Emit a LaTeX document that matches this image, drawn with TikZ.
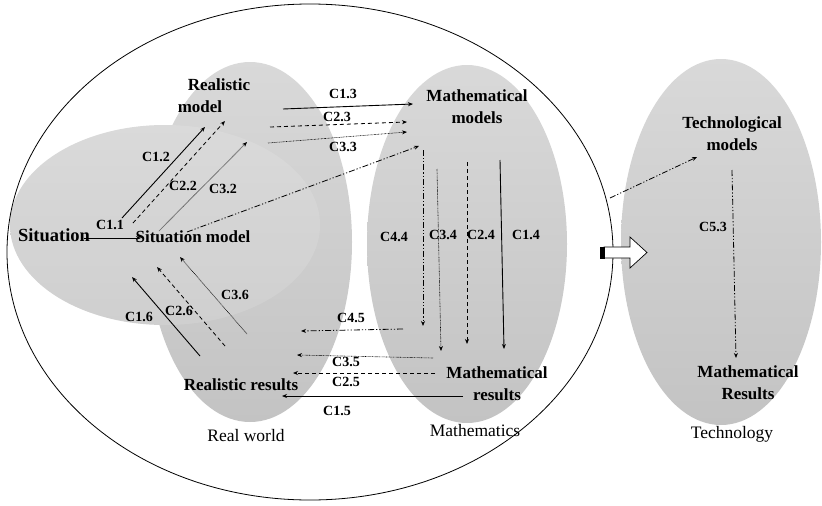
\documentclass[tikz,border=0pt]{standalone}
\usepackage{fontspec}
\setmainfont{Liberation Serif}
\usetikzlibrary{arrows.meta}
\begin{document}
\begin{tikzpicture}[x=1pt,y=-1pt,
  region/.style={top color=gray!30,bottom color=gray!47,draw=none},
  lbl/.style={font=\fontsize{14}{14}\selectfont\bfseries,inner sep=0pt},
  nd/.style={font=\fontsize{17}{22}\selectfont\bfseries,align=center,inner sep=0pt},
  reg/.style={font=\fontsize{17.5}{18}\selectfont,inner sep=0pt},
  tip/.style={-{Stealth[length=5pt,width=4pt]}},
  solidl/.style={tip,line width=0.9pt},
  dashl/.style={tip,line width=0.8pt,dash pattern=on 4pt off 3pt},
  dotl/.style={tip,line width=0.6pt,dash pattern=on 0.7pt off 0.7pt},
  ddotl/.style={tip,line width=0.8pt,dash pattern=on 6pt off 2pt on 1.2pt off 2pt on 1.2pt off 2pt}]
\useasboundingbox (0,0) rectangle (822,506);
% gray regions (real world + situation share one shading)
\shade[region,nonzero rule] (250,242) ellipse [x radius=102pt,y radius=180pt]
                            (165,225) ellipse [x radius=155pt,y radius=100pt];
\fill[white,opacity=0.12] (165,225) ellipse [x radius=155pt,y radius=100pt];
\shade[region] (467,244) ellipse [x radius=100pt,y radius=179pt];
\shade[region] (721,242) ellipse [x radius=100pt,y radius=183pt];
% big ellipse
\draw[line width=0.8pt] (310,252) ellipse [x radius=303pt,y radius=248pt];
% block arrow
\draw[fill=white,line width=0.7pt] (604,247) -- (630,247) -- (630,237) -- (647,252.5) -- (630,268) -- (630,258) -- (604,258) -- cycle;
\fill[black] (600,246.5) rectangle (605,258.5);
% nodes
\node[font=\fontsize{18.5}{20}\selectfont\bfseries,inner sep=0pt] (sit) at (54,235) {Situation};
\node[font=\fontsize{17}{20}\selectfont\bfseries,inner sep=0pt] (sitm) at (193,237) {Situation model};
\node[nd] (realm) at (200,96) {\hspace*{38pt}Realistic\\model};
\node[nd] (mathm) at (477,107) {Mathematical\\models};
\node[nd] (mathr) at (497,384) {Mathematical\\results};
\node[nd] (realr) at (241,385) {Realistic results};
\node[nd] (techm) at (732,133.5) {Technological\\models};
\node[nd] (techr) at (748,382.5) {Mathematical\\Results};
\node[reg] (rw) at (246,436) {Real world};
\node[reg] (mw) at (475,431) {Mathematics};
\node[reg] (tw) at (732,434) {Technology};
% labels
\node[lbl] (l11) at (110,225) {C1.1};
\node[lbl] (l12) at (156,157) {C1.2};
\node[lbl] (l22) at (183,186) {C2.2};
\node[lbl] (l32) at (223,189) {C3.2};
\node[lbl] (l13) at (343,94) {C1.3};
\node[lbl] (l23) at (337,117) {C2.3};
\node[lbl] (l33) at (343,147) {C3.3};
\node[lbl] (l44) at (394,237) {C4.4};
\node[lbl] (l34) at (443,235) {C3.4};
\node[lbl] (l24) at (481,235) {C2.4};
\node[lbl] (l14) at (526,235) {C1.4};
\node[lbl] (l45) at (351,318) {C4.5};
\node[lbl] (l35) at (346,362) {C3.5};
\node[lbl] (l25) at (346,382) {C2.5};
\node[lbl] (l15) at (337,411) {C1.5};
\node[lbl] (l16) at (139,317) {C1.6};
\node[lbl] (l26) at (179,311) {C2.6};
\node[lbl] (l36) at (235,295) {C3.6};
\node[lbl] (l53) at (713,227) {C5.3};
% connector end points
\coordinate (s11) at (84,238);  \coordinate (e11) at (141,238);
\coordinate (s12) at (122,218); \coordinate (e12) at (205,127);
\coordinate (s22) at (133,223); \coordinate (e22) at (225,121);
\coordinate (s32) at (159,231); \coordinate (e32) at (247,142);
\coordinate (s4x) at (187,232); \coordinate (e4x) at (419,146);
\coordinate (s13) at (283,109); \coordinate (e13) at (413,104);
\coordinate (s23) at (270,127); \coordinate (e23) at (407,122);
\coordinate (s33) at (268,143); \coordinate (e33) at (407,132);
\coordinate (s44) at (423,150); \coordinate (e44) at (423,326);
\coordinate (s34) at (437,169); \coordinate (e34) at (441,351);
\coordinate (s24) at (467,162); \coordinate (e24) at (467,344);
\coordinate (s14) at (500,160); \coordinate (e14) at (504,349);
\coordinate (s45) at (403,329); \coordinate (e45) at (301,331);
\coordinate (s35) at (433,358); \coordinate (e35) at (297,355);
\coordinate (s25) at (435,373); \coordinate (e25) at (293,373);
\coordinate (s15) at (463,396); \coordinate (e15) at (282,396);
\coordinate (s16) at (200,356); \coordinate (e16) at (132,277);
\coordinate (s26) at (225,346); \coordinate (e26) at (157,267);
\coordinate (s36) at (247,334); \coordinate (e36) at (180,257);
\coordinate (st)  at (610,198); \coordinate (et)  at (697,157);
\coordinate (s53) at (732,170); \coordinate (e53) at (736,358);
% connectors
\draw[solidl] (s11) -- (e11);
\draw[solidl] (s12) -- (e12);
\draw[dashl]  (s22) -- (e22);
\draw[dotl]   (s32) -- (e32);
\draw[ddotl]  (s4x) -- (e4x);
\draw[solidl] (s13) -- (e13);
\draw[dashl]  (s23) -- (e23);
\draw[dotl]   (s33) -- (e33);
\draw[ddotl]  (s44) -- (e44);
\draw[dotl]   (s34) -- (e34);
\draw[dashl]  (s24) -- (e24);
\draw[solidl] (s14) -- (e14);
\draw[ddotl]  (s45) -- (e45);
\draw[dotl]   (s35) -- (e35);
\draw[dashl]  (s25) -- (e25);
\draw[solidl] (s15) -- (e15);
\draw[solidl] (s16) -- (e16);
\draw[dashl]  (s26) -- (e26);
\draw[dotl]   (s36) -- (e36);
\draw[ddotl]  (st)  -- (et);
\draw[ddotl]  (s53) -- (e53);
\end{tikzpicture}
\end{document}
